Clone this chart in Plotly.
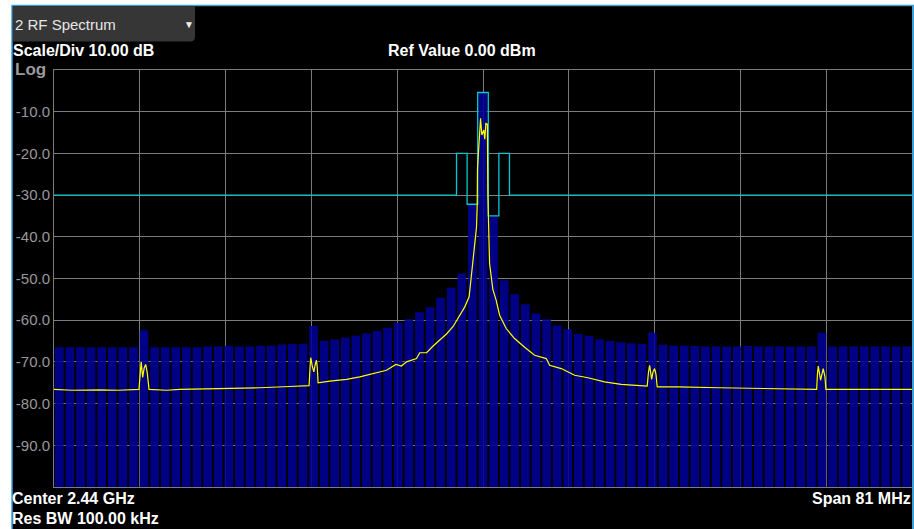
import plotly.graph_objects as go

# ---------------- data ----------------
# channel power bars (1 MHz channels, 2400..2480 MHz), dBm
bar_freq_mhz = list(range(2400, 2481))
bar_power_dbm = [
    -66.5, -66.5, -66.5, -66.5, -66.5, -66.5, -66.5, -66.5,   # 2400-2407
    -62.4,                                                    # 2408
    -66.5, -66.5, -66.5, -66.5, -66.5,                        # 2409-2413
    -66.3, -66.3, -66.1, -66.3, -66.3, -66.1, -66.1, -65.8, -65.7, -65.7,  # 2414-2423
    -61.4,                                                    # 2424
    -65.0, -64.6, -64.2, -63.7, -63.2, -62.6, -61.8, -60.6, -59.8, -58.1,  # 2425-2434
    -56.9, -54.6, -52.2, -48.8, -32.2,                        # 2435-2439
    -5.4,                                                     # 2440
    -35.0, -50.4, -53.8, -56.2, -58.4, -59.8, -61.3, -62.2, -63.3, -63.8,  # 2441-2450
    -64.6, -65.0, -65.3, -65.5, -65.7,                        # 2451-2455
    -63.0,                                                    # 2456
    -65.9, -66.1, -66.1, -66.2, -66.3, -66.3, -66.3, -66.3, -66.2, -66.3,  # 2457-2466
    -66.3, -66.3, -66.3, -66.3, -66.3,                        # 2467-2471
    -63.0,                                                    # 2472
    -66.3, -66.3, -66.3, -66.3, -66.3, -66.3, -66.3, -66.3,   # 2473-2480
]

# swept spectrum trace (yellow), MHz / dBm
trace_freq_mhz = [
    2399.50, 2401.20, 2403.81, 2405.60, 2407.52, 2407.63, 2407.73, 2407.87, 2408.01, 2408.15,
    2408.30, 2408.47, 2410.10, 2411.37, 2413.26, 2416.09, 2418.92, 2421.76, 2423.46, 2423.58,
    2423.68, 2423.74, 2423.88, 2424.03, 2424.17, 2424.28, 2424.36, 2424.43, 2425.54, 2427.11,
    2428.37, 2429.63, 2430.89, 2431.77, 2432.30, 2432.78, 2433.72, 2434.03, 2434.67, 2435.29,
    2435.92, 2436.55, 2437.18, 2437.81, 2438.28, 2438.69, 2438.92, 2439.16, 2439.39, 2439.45,
    2439.48, 2439.64, 2439.77, 2439.89, 2440.08, 2440.17, 2440.27, 2440.41, 2440.46, 2440.62,
    2440.77, 2440.93, 2441.24, 2441.57, 2442.19, 2442.98, 2443.93, 2444.87, 2445.97, 2446.29,
    2447.39, 2448.65, 2449.91, 2451.48, 2453.05, 2455.26, 2455.50, 2455.62, 2455.73, 2455.92,
    2456.04, 2456.20, 2456.33, 2456.45, 2458.41, 2462.37, 2467.09, 2471.50, 2471.57, 2471.65,
    2471.87, 2472.00, 2472.12, 2472.28, 2472.37, 2476.52, 2480.50,
]
trace_level_dbm = [
    -76.6, -76.8, -76.7, -76.8, -76.6, -72.0, -70.0, -73.7, -71.5, -70.6,
    -72.5, -76.6, -76.8, -76.6, -76.5, -76.4, -76.2, -75.9, -75.7, -75.7,
    -71.0, -69.0, -71.0, -72.4, -70.5, -69.6, -71.5, -75.0, -74.6, -74.2,
    -73.6, -72.8, -72.0, -70.6, -71.0, -70.0, -69.2, -67.8, -67.8, -66.2,
    -64.7, -63.3, -61.5, -59.0, -56.8, -54.4, -49.6, -43.2, -37.6, -32.8,
    -23.6, -16.4, -11.6, -15.6, -14.4, -16.6, -12.8, -13.0, -30.0, -46.4,
    -50.0, -52.6, -55.2, -58.8, -62.0, -64.4, -66.5, -68.4, -69.2, -70.8,
    -71.6, -73.2, -73.8, -74.8, -75.4, -75.8, -75.8, -72.5, -70.8, -74.2,
    -72.5, -71.6, -73.0, -76.0, -76.0, -76.2, -76.4, -76.6, -73.0, -71.0,
    -74.4, -72.5, -71.6, -73.5, -76.6, -76.6, -76.6,
]

# limit / ACP outline (cyan), MHz / dBm (step "hv")
mask_freq_mhz = [2399.5, 2437.5, 2438.5, 2439.5, 2440.5, 2441.5, 2442.5, 2480.5]
mask_level_dbm = [-30.0, -20.0, -32.2, -5.4, -35.0, -20.0, -30.0, -30.0]

y_tick_vals = [-10, -20, -30, -40, -50, -60, -70, -80, -90]
y_tick_text = ["-10.0", "-20.0", "-30.0", "-40.0", "-50.0", "-60.0", "-70.0", "-80.0", "-90.0"]

ref_level = 0.0
bottom_level = -100.0
center_mhz = 2440.0
span_mhz = 81.0

# ---------------- figure ----------------
W, H = 914, 529
ML, MR, MT, MB = 54, 2, 70, 42
PW, PH = W - ML - MR, H - MT - MB


def px_x(px):
    return (px - ML) / PW


def px_y(py):
    return (H - MB - py) / PH


FONT = "Liberation Sans, Arial, sans-serif"
GRID = "#7c7c7c"

fig = go.Figure()

fig.add_trace(go.Bar(
    x=bar_freq_mhz,
    y=[p - bottom_level for p in bar_power_dbm],
    base=bottom_level,
    marker=dict(color="rgba(0,0,150,0.88)", line=dict(width=0)),
    hoverinfo="skip",
))

fig.add_trace(go.Scatter(
    x=mask_freq_mhz, y=mask_level_dbm, mode="lines",
    line=dict(color="rgb(0,200,210)", width=1.3, shape="hv"),
    hoverinfo="skip",
))

fig.add_trace(go.Scatter(
    x=trace_freq_mhz, y=trace_level_dbm, mode="lines",
    line=dict(color="#ffff00", width=1.2),
    hoverinfo="skip",
))

start = center_mhz - span_mhz / 2
x_grid = [start + span_mhz / 10 * k for k in range(1, 10)]

fig.update_layout(
    width=W, height=H,
    margin=dict(l=ML, r=MR, t=MT, b=MB, pad=0),
    paper_bgcolor="black", plot_bgcolor="black",
    showlegend=False, bargap=0.18,
    font=dict(family=FONT),
    xaxis=dict(
        range=[start, center_mhz + span_mhz / 2],
        tickmode="array", tickvals=x_grid, showticklabels=False, ticks="",
        showgrid=True, gridcolor=GRID, gridwidth=1, zeroline=False,
        showline=True, linecolor=GRID, linewidth=1, mirror=True,
    ),
    yaxis=dict(
        range=[bottom_level, ref_level],
        tickmode="array", tickvals=y_tick_vals, ticktext=y_tick_text,
        tickfont=dict(family=FONT, size=15, color="#989898"),
        ticks="", showgrid=True, gridcolor=GRID, gridwidth=1, zeroline=False,
        showline=True, linecolor=GRID, linewidth=1,
    ),
)

shapes = []
# white page strips and blue panel border
shapes.append(dict(type="rect", xref="paper", yref="paper",
                   x0=px_x(0), x1=px_x(12), y0=px_y(H), y1=px_y(0),
                   fillcolor="white", line=dict(width=0), layer="above"))
shapes.append(dict(type="rect", xref="paper", yref="paper",
                   x0=px_x(0), x1=px_x(W), y0=px_y(5), y1=px_y(0),
                   fillcolor="white", line=dict(width=0), layer="above"))
BLUE = "#3b9fd8"
shapes.append(dict(type="line", xref="paper", yref="paper",
                   x0=px_x(12), x1=px_x(12), y0=px_y(H), y1=px_y(5),
                   line=dict(color=BLUE, width=1.5), layer="above"))
shapes.append(dict(type="line", xref="paper", yref="paper",
                   x0=px_x(12), x1=px_x(W), y0=px_y(5.5), y1=px_y(5.5),
                   line=dict(color=BLUE, width=1.5), layer="above"))
shapes.append(dict(type="line", xref="paper", yref="paper",
                   x0=px_x(913), x1=px_x(913), y0=px_y(H), y1=px_y(5),
                   line=dict(color=BLUE, width=2), layer="above"))
# dropdown tab
x0, x1, y0, y1, r = px_x(12.8), px_x(195), px_y(41.5), px_y(6.2), 5
rx, ry = r / PW, r / PH
shapes.append(dict(type="path", xref="paper", yref="paper",
                   path=(f"M {x0},{y1} L {x1},{y1} L {x1},{y0 + ry} "
                         f"Q {x1},{y0} {x1 - rx},{y0} L {x0},{y0} Z"),
                   fillcolor="#363636", line=dict(width=0), layer="above"))
fig.update_layout(shapes=shapes)


def ann(text, px, py, anchor="left", size=16, color="white", bold=True):
    t = f"<b>{text}</b>" if bold else text
    fig.add_annotation(text=t, xref="paper", yref="paper", x=px_x(px), y=px_y(py),
                       xanchor=anchor, yanchor="middle", showarrow=False,
                       borderpad=0, font=dict(family=FONT, size=size, color=color))


ann("2 RF Spectrum", 14, 24, size=15, color="#e6e6e6", bold=False)
ann("▼", 188.5, 24, anchor="center", size=10, color="#f0f0f0", bold=False)
ann("Scale/Div 10.00 dB", 12, 50.5)
ann("Ref Value 0.00 dBm", 462, 50.5, anchor="center")
ann("Log", 14, 69.5, size=17, color="#9a9a9a")
ann("Center 2.44 GHz", 11, 498)
ann("Res BW 100.00 kHz", 11, 518)
ann("Span 81 MHz", 912, 498, anchor="right")

fig.write_html("out.html")
